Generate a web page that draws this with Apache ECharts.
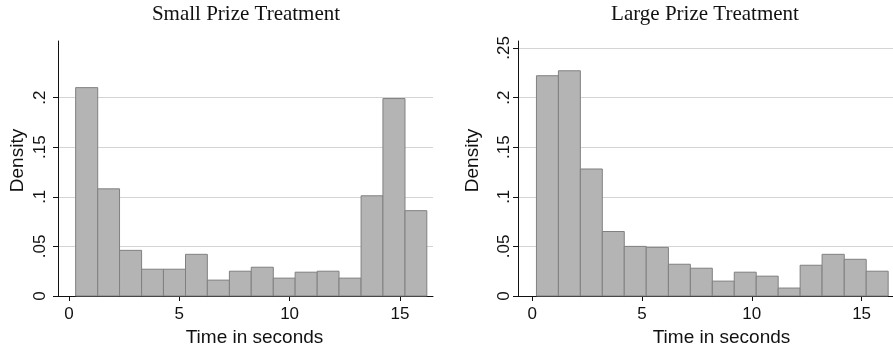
<!DOCTYPE html>
<html>
<head>
<meta charset="utf-8">
<script src="https://cdn.jsdelivr.net/npm/echarts@6/dist/echarts.min.js"></script>
<style>
html,body{margin:0;padding:0;background:#fff;}
#main{width:893px;height:349px;}
</style>
</head>
<body>
<div id="main"></div>
<script>
// histogram bins (left edges + last right edge) and densities
var smallEdges=[0.30,1.30,2.29,3.29,4.28,5.28,6.27,7.27,8.26,9.26,10.25,11.25,12.24,13.24,14.23,15.23,16.22];
var smallDensity=[0.210,0.108,0.046,0.027,0.027,0.042,0.016,0.025,0.029,0.018,0.024,0.025,0.018,0.101,0.199,0.086];
var largeEdges=[0.19,1.19,2.19,3.19,4.19,5.19,6.20,7.20,8.20,9.20,10.20,11.20,12.20,13.20,14.21,15.21,16.21];
var largeDensity=[0.222,0.227,0.128,0.065,0.050,0.049,0.032,0.028,0.015,0.024,0.020,0.008,0.031,0.042,0.037,0.025];
var xTicks=[0,5,10,15];
var smallYTicks=[0,0.05,0.1,0.15,0.2];
var largeYTicks=[0,0.05,0.1,0.15,0.2,0.25];
var titles=['Small Prize Treatment','Large Prize Treatment'];

function binData(edges,dens){
	var out=[];
	for(var i=0;i<dens.length;i++){
		out.push([edges[i],edges[i+1],dens[i]]);
	}
	return out;
}

function renderBin(params,api){
	var p0=api.coord([api.value(0),api.value(2)]);
	var p1=api.coord([api.value(1),0]);
	return {
		type:'rect',
		shape:{x:p0[0],y:p0[1],width:p1[0]-p0[0],height:p1[1]-p0[1]},
		style:{fill:'#b4b4b4',stroke:'#808080',lineWidth:1}
	};
}

function fmtY(v){
	if(v===0) return '0';
	return String(Math.round(v*100)/100).replace('0.','.');
}

var sans='"Liberation Sans", Arial, sans-serif';
var serifFont='21px "Liberation Serif", serif';

function xAxisOf(idx,min,max,pad){
	return {
		type:'value',gridIndex:idx,min:min,max:max,
		name:'Time in seconds',nameLocation:'middle',nameGap:29,
		nameTextStyle:{fontFamily:sans,fontSize:19,color:'#111',padding:[0,0,0,pad]},
		axisLine:{onZero:false,lineStyle:{color:'#111',width:1}},
		axisTick:{length:5,customValues:xTicks,lineStyle:{color:'#111'}},
		axisLabel:{customValues:xTicks,margin:10,fontFamily:sans,fontSize:17,color:'#111'},
		splitLine:{show:false}
	};
}

function yAxisOf(idx,ticks,nameGap,margin){
	return {
		type:'value',gridIndex:idx,min:0,max:0.257,
		name:'Density',nameLocation:'middle',nameGap:nameGap,
		nameTextStyle:{fontFamily:sans,fontSize:19,color:'#111',padding:[0,0,0,16]},
		axisLine:{show:true,onZero:false,lineStyle:{color:'#111',width:1}},
		axisTick:{show:true,length:5,customValues:ticks,lineStyle:{color:'#111'}},
		axisLabel:{customValues:ticks,rotate:90,margin:margin,fontFamily:sans,fontSize:17,color:'#111',formatter:fmtY},
		splitLine:{show:true,lineStyle:{color:'#d4d4d4',width:1}}
	};
}

var chart=echarts.init(document.getElementById('main'),null,{renderer:'canvas'});
var option={
	backgroundColor:'#ffffff',
	animation:false,
	grid:[
		{left:58,top:41,width:375,height:255,containLabel:false,outerBoundsMode:'none'},
		{left:518,top:41,width:375,height:255,containLabel:false,outerBoundsMode:'none'}
	],
	xAxis:[xAxisOf(0,-0.5,16.5,18),xAxisOf(1,-0.65,16.43,32)],
	yAxis:[yAxisOf(0,smallYTicks,31,9),yAxisOf(1,largeYTicks,36,5)],
	graphic:[
		{type:'text',x:246,y:4,style:{text:titles[0],font:serifFont,fill:'#111',align:'center'}},
		{type:'text',x:705,y:4,style:{text:titles[1],font:serifFont,fill:'#111',align:'center'}}
	],
	series:[
		{type:'custom',xAxisIndex:0,yAxisIndex:0,renderItem:renderBin,encode:{x:[0,1],y:2},data:binData(smallEdges,smallDensity)},
		{type:'custom',xAxisIndex:1,yAxisIndex:1,renderItem:renderBin,encode:{x:[0,1],y:2},data:binData(largeEdges,largeDensity)}
	]
};
chart.setOption(option);
</script>
</body>
</html>
